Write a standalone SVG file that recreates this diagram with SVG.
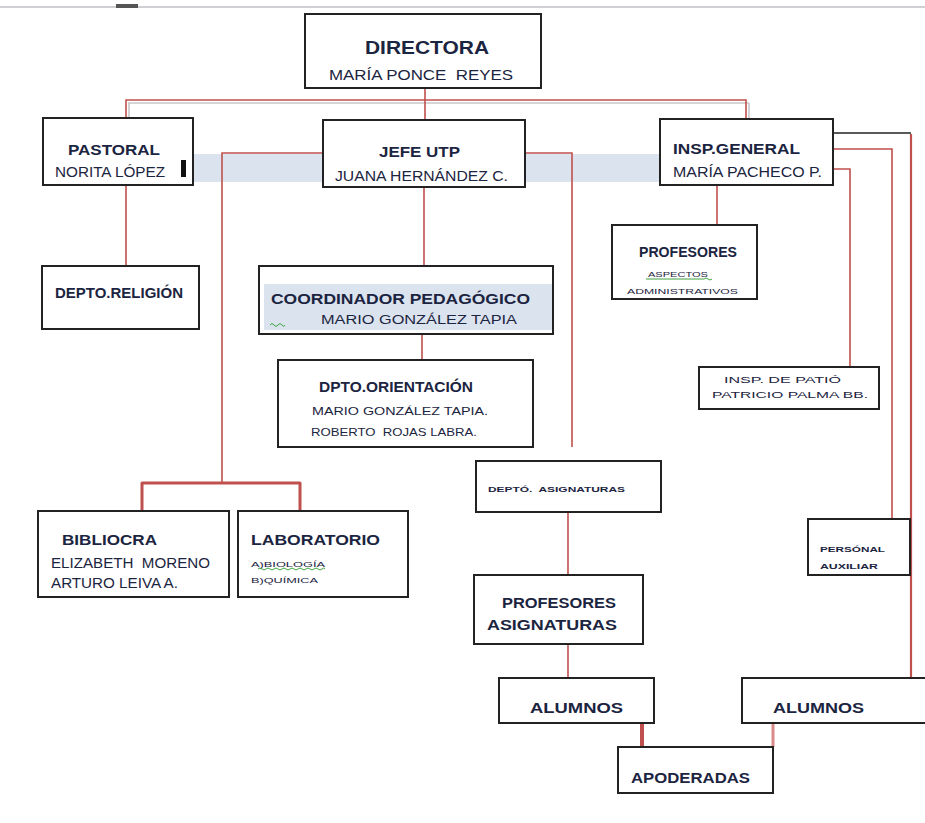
<svg xmlns="http://www.w3.org/2000/svg" width="925" height="823" viewBox="0 0 925 823" xml:space="preserve">
<style>
.box{fill:#fff;stroke:#222;stroke-width:2}
.t{font-family:"Liberation Sans",Arial,sans-serif;fill:#1b2440;white-space:pre}
.bd{font-weight:bold}
.c{fill:none;stroke:#c0504d;stroke-width:1.6}
.sh{fill:none;stroke:#c8c8cc;stroke-width:1.6}
.sq{fill:none;stroke:#3fa33f;stroke-width:1}
</style>
<rect width="925" height="823" fill="#fff"/>
<line x1="0" y1="7" x2="925" y2="7" stroke="#cfcfd4" stroke-width="2"/>
<rect x="116" y="4" width="22" height="4" fill="#555"/>
<rect x="193" y="154" width="467" height="28" fill="#dbe3ef"/>
<g id="connectors">
<path class="sh" d="M128,103 H749 M129,103 V118 M749,103 V119"/>
<path class="c" d="M425,88 V120 M126,118 V100 H746 V119"/>
<path class="c" d="M126,185 V266"/>
<path class="c" d="M323,153 H222 V483"/>
<path d="M142,511 V483 H300 V511" fill="none" stroke="#c0504d" stroke-width="3" stroke-linejoin="round"/>
<path class="c" d="M525,153 H572 V447"/>
<path class="c" d="M424,187 V266"/>
<path class="c" d="M422,334 V360"/>
<path class="c" d="M717,185 V225"/>
<path d="M833,133 H911" fill="none" stroke="#222" stroke-width="1.6"/>
<path d="M911,134 V678" fill="none" stroke="#c0504d" stroke-width="2.2"/>
<path class="c" d="M833,149 H892 V519"/>
<path class="c" d="M833,169 H850 V367"/>
<path class="c" d="M568,512 V575"/>
<path class="c" d="M568,644 V678"/>
<path d="M642,723 V747" fill="none" stroke="#c0504d" stroke-width="4"/>
<path d="M773,723 V747" fill="none" stroke="#d98a88" stroke-width="3"/>
</g>
<g id="directora">
<rect class="box" x="305" y="14" width="236" height="74"/>
<text class="t bd" x="365" y="54" font-size="19" textLength="124" lengthAdjust="spacingAndGlyphs">DIRECTORA</text>
<text class="t" x="329" y="80" font-size="14" textLength="184" lengthAdjust="spacingAndGlyphs">MARÍA PONCE  REYES</text>
</g>
<g id="pastoral">
<rect class="box" x="43" y="118" width="150" height="67"/>
<text class="t bd" x="68" y="155" font-size="15" textLength="92" lengthAdjust="spacingAndGlyphs">PASTORAL</text>
<text class="t" x="55" y="177" font-size="14" textLength="110" lengthAdjust="spacingAndGlyphs">NORITA LÓPEZ</text>
<rect x="181" y="160" width="5" height="17" fill="#111"/>
</g>
<g id="jefe-utp">
<rect class="box" x="323" y="120" width="202" height="67"/>
<text class="t bd" x="379" y="157" font-size="15" textLength="81" lengthAdjust="spacingAndGlyphs">JEFE UTP</text>
<text class="t" x="335" y="181" font-size="14" textLength="173" lengthAdjust="spacingAndGlyphs">JUANA HERNÁNDEZ C.</text>
</g>
<g id="insp-general">
<rect class="box" x="660" y="119" width="173" height="66"/>
<text class="t bd" x="673" y="154" font-size="15" textLength="127" lengthAdjust="spacingAndGlyphs">INSP.GENERAL</text>
<text class="t" x="673" y="177" font-size="14" textLength="149" lengthAdjust="spacingAndGlyphs">MARÍA PACHECO P.</text>
</g>
<g id="depto-religion">
<rect class="box" x="42" y="266" width="157" height="63"/>
<text class="t bd" x="55" y="298" font-size="14" textLength="128" lengthAdjust="spacingAndGlyphs">DEPTO.RELIGIÓN</text>
</g>
<g id="coordinador">
<rect class="box" x="259" y="266" width="294" height="68"/>
<rect x="264" y="284" width="288" height="46" fill="#dbe3ef"/>
<text class="t bd" x="271" y="304" font-size="14" textLength="259" lengthAdjust="spacingAndGlyphs">COORDINADOR PEDAGÓGICO</text>
<text class="t" x="321" y="324" font-size="12" textLength="196" lengthAdjust="spacingAndGlyphs">MARIO GONZÁLEZ TAPIA</text>
<path class="sq" d="M270,325 q2,-3 4,0 t4,0 t4,0 t3,0"/>
</g>
<g id="dpto-orientacion">
<rect class="box" x="278" y="360" width="255" height="87"/>
<text class="t bd" x="319" y="392" font-size="15" textLength="154" lengthAdjust="spacingAndGlyphs">DPTO.ORIENTACIÓN</text>
<text class="t" x="312" y="415" font-size="11" textLength="176" lengthAdjust="spacingAndGlyphs">MARIO GONZÁLEZ TAPIA.</text>
<text class="t" x="311" y="436" font-size="11" textLength="166" lengthAdjust="spacingAndGlyphs">ROBERTO  ROJAS LABRA.</text>
</g>
<g id="profesores">
<rect class="box" x="612" y="225" width="145" height="74"/>
<text class="t bd" x="639" y="257" font-size="15" textLength="98" lengthAdjust="spacingAndGlyphs">PROFESORES</text>
<text class="t" x="648" y="277" font-size="7" textLength="60" lengthAdjust="spacingAndGlyphs">ASPECTOS</text>
<path class="sq" d="M646,279 h58 q2,-2 4,0 t4,0"/>
<text class="t" x="627" y="294" font-size="8" textLength="111" lengthAdjust="spacingAndGlyphs">ADMINISTRATIVOS</text>
</g>
<g id="insp-patio">
<rect class="box" x="699" y="367" width="180" height="42"/>
<text class="t" x="724" y="383" font-size="9" textLength="117" lengthAdjust="spacingAndGlyphs">INSP. DE PATIÓ</text>
<text class="t" x="712" y="398" font-size="9" textLength="156" lengthAdjust="spacingAndGlyphs">PATRICIO PALMA BB.</text>
</g>
<g id="depto-asignaturas">
<rect class="box" x="476" y="461" width="185" height="51"/>
<text class="t bd" x="488" y="492" font-size="8" textLength="137" lengthAdjust="spacingAndGlyphs">DEPTÓ.  ASIGNATURAS</text>
</g>
<g id="profesores-asignaturas">
<rect class="box" x="474" y="575" width="169" height="69"/>
<text class="t bd" x="502" y="608" font-size="14" textLength="114" lengthAdjust="spacingAndGlyphs">PROFESORES</text>
<text class="t bd" x="487" y="630" font-size="14" textLength="130" lengthAdjust="spacingAndGlyphs">ASIGNATURAS</text>
</g>
<g id="alumnos-1">
<rect class="box" x="499" y="678" width="155" height="45"/>
<text class="t bd" x="530" y="713" font-size="14" textLength="93" lengthAdjust="spacingAndGlyphs">ALUMNOS</text>
</g>
<g id="alumnos-2">
<rect class="box" x="742" y="678" width="200" height="45"/>
<text class="t bd" x="773" y="713" font-size="14" textLength="91" lengthAdjust="spacingAndGlyphs">ALUMNOS</text>
</g>
<g id="apoderadas">
<rect class="box" x="618" y="747" width="155" height="46"/>
<text class="t bd" x="631" y="783" font-size="14" textLength="119" lengthAdjust="spacingAndGlyphs">APODERADAS</text>
</g>
<g id="personal-auxiliar">
<rect class="box" x="808" y="519" width="102" height="56"/>
<text class="t bd" x="820" y="552" font-size="8" textLength="65" lengthAdjust="spacingAndGlyphs">PERSÓNAL</text>
<text class="t bd" x="820" y="569" font-size="8" textLength="58" lengthAdjust="spacingAndGlyphs">AUXILIAR</text>
</g>
<g id="bibliocra">
<rect class="box" x="38" y="511" width="191" height="86"/>
<text class="t bd" x="62" y="545" font-size="15" textLength="95" lengthAdjust="spacingAndGlyphs">BIBLIOCRA</text>
<text class="t" x="51" y="568" font-size="14" textLength="159" lengthAdjust="spacingAndGlyphs">ELIZABETH  MORENO</text>
<text class="t" x="51" y="588" font-size="14" textLength="127" lengthAdjust="spacingAndGlyphs">ARTURO LEIVA A.</text>
</g>
<g id="laboratorio">
<rect class="box" x="238" y="511" width="170" height="86"/>
<text class="t bd" x="251" y="545" font-size="15" textLength="129" lengthAdjust="spacingAndGlyphs">LABORATORIO</text>
<text class="t" x="251" y="567" font-size="8" textLength="74" lengthAdjust="spacingAndGlyphs">A)BIOLOGÍA</text>
<path class="sq" d="M258,569 q2,-2 4,0 t4,0 t4,0 t4,0 t4,0 t4,0 t4,0 t4,0 t4,0 t4,0 t4,0 t4,0 t4,0 t4,0 t4,0 t4,0 t3,0"/>
<text class="t" x="251" y="583" font-size="8" textLength="67" lengthAdjust="spacingAndGlyphs">B)QUÍMICA</text>
</g>
</svg>
